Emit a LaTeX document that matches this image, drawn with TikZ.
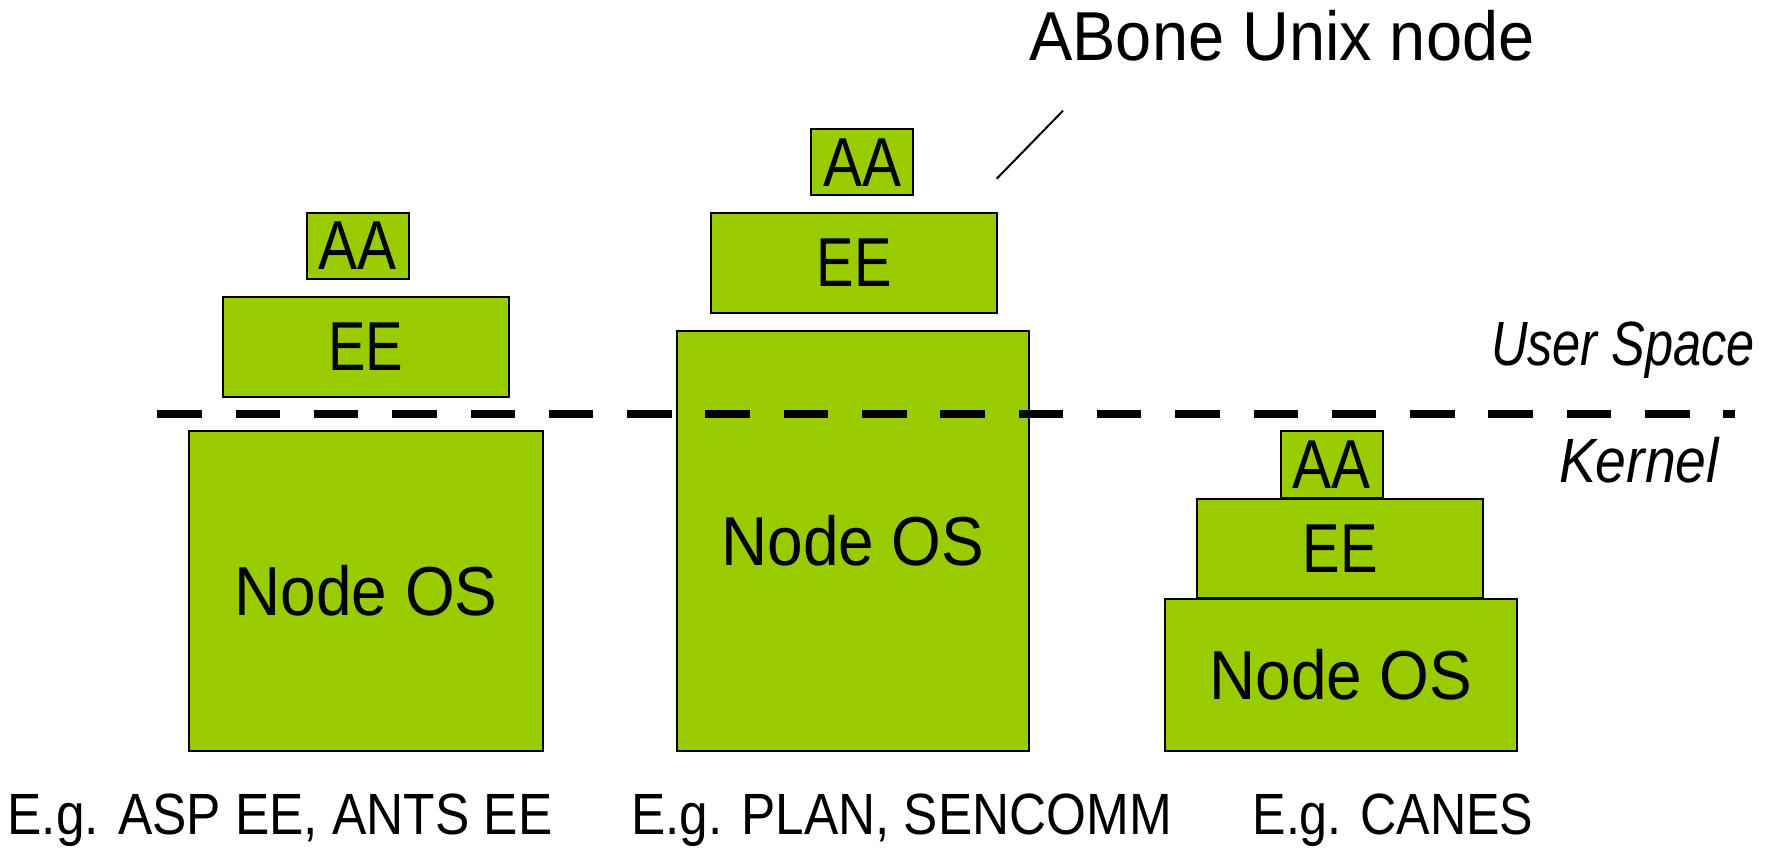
\documentclass[tikz,border=0pt]{standalone}
\usepackage{fontspec}
\setmainfont{Liberation Sans}
\usepackage{graphicx}
\definecolor{leaf}{HTML}{99CC00}
\newcommand{\fitw}[2]{\resizebox{#1}{\height}{#2}}
\tikzset{
  layer/.style={draw=black, line width=2pt, fill=leaf, inner sep=0pt,
    font=\fontsize{69.3}{72}\selectfont},
  bigtext/.style={inner sep=0pt, anchor=base, font=\fontsize{69.3}{72}\selectfont},
  captext/.style={inner sep=0pt, anchor=base, font=\fontsize{58.2}{62}\selectfont},
  zonetext/.style={inner sep=0pt, anchor=base, font=\fontsize{62.5}{66}\selectfont\itshape},
  divider/.style={line width=8.5pt, dash pattern=on 44.5pt off 33.8pt, line cap=butt},
  leader/.style={line width=2pt},
}
\begin{document}
\begin{tikzpicture}[x=1pt,y=-1pt]
\useasboundingbox (0,0) rectangle (1781,848);
% left stack
\node[layer, minimum width=354.6pt, minimum height=320pt] (nos1) at (366,590.8) {\fitw{263pt}{Node OS}};
\node[layer, minimum width=286pt, minimum height=100pt] (ee1) at (365.7,346.5) {\fitw{75pt}{EE}};
\node[layer, minimum width=102pt, minimum height=66pt] (aa1) at (357.7,245.6) {\fitw{78pt}{AA}};
% middle stack
\node[layer, minimum width=352.3pt, minimum height=420.2pt] (nos2) at (852.8,540.7) {\fitw{263pt}{Node OS}};
\node[layer, minimum width=286.6pt, minimum height=100pt] (ee2) at (854,262.9) {\fitw{75pt}{EE}};
\node[layer, minimum width=102.6pt, minimum height=66.4pt] (aa2) at (862,162.2) {\fitw{78pt}{AA}};
% right stack
\node[layer, minimum width=352.3pt, minimum height=152pt] (nos3) at (1340.8,675) {\fitw{263pt}{Node OS}};
\node[layer, minimum width=285.4pt, minimum height=99pt] (ee3) at (1340,548.5) {\fitw{75pt}{EE}};
\node[layer, minimum width=102pt, minimum height=67pt] (aa3) at (1331.7,464.5) {\fitw{78pt}{AA}};
% divider
\coordinate (dl) at (157.3,414);
\coordinate (dr) at (1735,414);
\draw[divider] (dl) -- (dr);
% zone labels
\node[zonetext] (user) at (1623,365) {\fitw{264pt}{User Space}};
\node[zonetext] (kern) at (1639,482) {\fitw{160pt}{Kernel}};
% ABone label and leader
\node[bigtext] (abone) at (1281.9,61) {\fitw{505pt}{ABone Unix node}};
\coordinate (la) at (996.7,178.7);
\coordinate (lb) at (1063,110.7);
\draw[leader] (la) -- (lb);
% captions
\node[captext] (c1) at (280,834) {\fitw{545pt}{E.g. ASP EE, ANTS EE}};
\node[captext] (c2) at (901.5,834) {\fitw{541pt}{E.g. PLAN, SENCOMM}};
\node[captext] (c3) at (1393,834) {\fitw{281pt}{E.g. CANES}};
\end{tikzpicture}
\end{document}
